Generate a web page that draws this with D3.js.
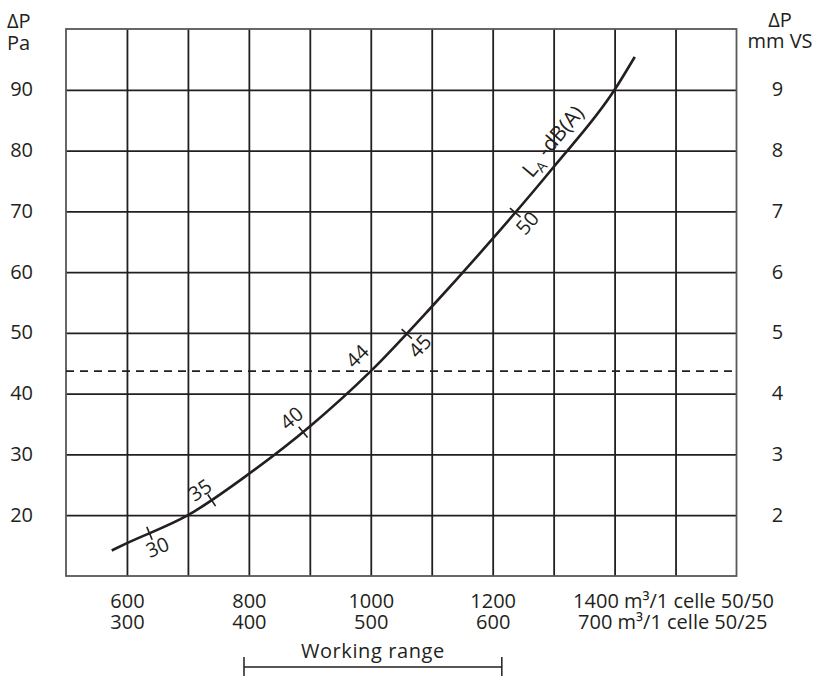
<!DOCTYPE html>
<html lang="en">
<head>
<meta charset="UTF-8">
<title>Pressure drop</title>
<style>
body{margin:0;background:#fff;}
svg text{font-family:"Open Sans",sans-serif;fill:#231f20;}
</style>
</head>
<body>
<script src="https://cdn.jsdelivr.net/npm/d3@7"></script>
<script>
// flow m3/h (1 celle 50/50) against pressure drop in Pa
var flow=[575,600,700,800,900,1000,1100,1200,1300,1400,1433]
var pressure=[14.2,15.4,20.0,26.8,34.6,43.7,54.3,65.5,77.3,90.0,95.4]
// sound level marks on the curve, dB(A), and the flow where each one sits
var dbLevels=[30,35,40,45,50]
var dbFlows=[637,739,889,1059,1237]
// 44 dB(A) reference line
var refLevel=44, refFlow=1001, refPressure=43.7
var paTicks=[20,30,40,50,60,70,80,90]
var mmTicks=[2,3,4,5,6,7,8,9]
var flowTicks=[600,800,1000,1200,1400]
var flowTicks2=[300,400,500,600,700]
var workingRange=[792,1215]

// layout only: which side of the curve each dB label goes (1 = below/right)
var dbSide=[1,-1,-1,1,1], dbDist=[16,15,18,18,16], dbAlong=[2,-4,0,0,0]

var width=818,height=676,fs=20
var pad={left:66,right:736.5,top:29,bottom:576}

var svg=d3.select('body').append('svg').attr('width',width).attr('height',height)

var x=d3.scaleLinear().domain([500,1600]).range([pad.left,pad.right])
var x2=d3.scaleLinear().domain([250,800]).range([pad.left,pad.right])
var y=d3.scaleLinear().domain([10,100]).range([pad.bottom,pad.top])
var yMm=d3.scaleLinear().domain([1,10]).range([pad.bottom,pad.top])

// grid
svg.append('g').attr('class','grid').attr('transform','translate(0,'+pad.bottom+')')
    .call(d3.axisBottom(x).tickValues(d3.range(600,1600,100)).tickSize(-(pad.bottom-pad.top)).tickFormat(''))
svg.append('g').attr('class','grid').attr('transform','translate('+pad.left+',0)')
    .call(d3.axisLeft(y).tickValues(paTicks).tickSize(-(pad.right-pad.left)).tickFormat(''))
svg.selectAll('.grid .domain').remove()
svg.selectAll('.grid .tick line').attr('stroke','#231f20').attr('stroke-width',1.8)

svg.append('rect').attr('x',pad.left).attr('y',pad.top)
    .attr('width',pad.right-pad.left).attr('height',pad.bottom-pad.top)
    .attr('fill','none').attr('stroke','#58585a').attr('stroke-width',1.8)

function styleAxis(g){
    g.select('.domain').remove()
    g.attr('font-family',null).attr('font-size',null)
    g.selectAll('text').attr('font-size',fs)
}

// left axis, Pa
svg.append('g').attr('transform','translate('+pad.left+',0)')
    .call(d3.axisLeft(y).tickValues(paTicks).tickSize(0).tickPadding(33))
    .call(styleAxis)
    .selectAll('text').attr('dy','0.3em')
// right axis, mm VS
var gr=svg.append('g').attr('transform','translate('+pad.right+',0)')
    .call(d3.axisRight(yMm).tickValues(mmTicks).tickSize(0))
    .call(styleAxis)
gr.selectAll('text').attr('text-anchor','middle').attr('x',41).attr('dy','0.3em')

// bottom axes, two rows
var gb1=svg.append('g').attr('transform','translate(0,'+pad.bottom+')')
    .call(d3.axisBottom(x).tickValues(flowTicks).tickSize(0).tickFormat(d3.format('d')))
    .call(styleAxis)
gb1.selectAll('text').attr('y',32).attr('dy',0)
gb1.selectAll('text').filter(function(d){return d===1400})
    .attr('text-anchor','start').attr('x',-42).text('1400 m\u00b3/1 celle 50/50')

var gb2=svg.append('g').attr('transform','translate(0,'+pad.bottom+')')
    .call(d3.axisBottom(x2).tickValues(flowTicks2).tickSize(0).tickFormat(d3.format('d')))
    .call(styleAxis)
gb2.selectAll('text').attr('y',53).attr('dy',0)
gb2.selectAll('text').filter(function(d){return d===700})
    .attr('text-anchor','start').attr('x',-37).text('700 m\u00b3/1 celle 50/25')

// axis titles
svg.append('text').attr('x',7).attr('y',28).attr('font-size',fs).text('\u0394P')
svg.append('text').attr('x',7).attr('y',50).attr('font-size',fs).text('Pa')
svg.append('text').attr('x',780).attr('y',27).attr('font-size',fs).attr('text-anchor','middle').text('\u0394P')
svg.append('text').attr('x',780).attr('y',48).attr('font-size',fs).attr('text-anchor','middle').text('mm VS')

// working range bracket
var wr0=x(workingRange[0]),wr1=x(workingRange[1])
svg.append('path')
    .attr('d','M'+wr0+',657V676M'+wr0+',667H'+wr1+'M'+wr1+',657V676')
    .attr('fill','none').attr('stroke','#231f20').attr('stroke-width',1.5)
svg.append('text').attr('x',(wr0+wr1)/2).attr('y',658).attr('font-size',fs)
    .attr('letter-spacing',0.6).attr('text-anchor','middle').text('Working range')

// 44 dB(A) dashed line
svg.append('line').attr('x1',x(500)).attr('x2',x(1600))
    .attr('y1',y(refPressure)).attr('y2',y(refPressure))
    .attr('stroke','#231f20').attr('stroke-width',1.8).attr('stroke-dasharray','8,6')

// curve
var pts=flow.map(function(f,i){return [f,pressure[i]]})
var line=d3.line().x(function(d){return x(d[0])}).y(function(d){return y(d[1])}).curve(d3.curveMonotoneX)
var curve=svg.append('path').datum(pts).attr('d',line)
    .attr('fill','none').attr('stroke','#231f20').attr('stroke-width',2.6)

function pointAt(q){
    var node=curve.node(),L=node.getTotalLength(),lo=0,hi=L,tx=x(q)
    for(var i=0;i<40;i++){
        var mid=(lo+hi)/2
        if(node.getPointAtLength(mid).x<tx)lo=mid;else hi=mid
    }
    var p=node.getPointAtLength(lo),a=node.getPointAtLength(Math.max(0,lo-3)),b=node.getPointAtLength(Math.min(L,lo+3))
    var ang=Math.atan2(b.y-a.y,b.x-a.x)
    return {x:p.x,y:p.y,a:ang,nx:-Math.sin(ang),ny:Math.cos(ang),tx:Math.cos(ang),ty:Math.sin(ang)}
}

function curveLabel(q,side,dist,along,txt,size){
    var p=pointAt(q)
    var cx=p.x+side*dist*p.nx+along*p.tx, cy=p.y+side*dist*p.ny+along*p.ty
    return svg.append('text').attr('font-size',size||fs).attr('text-anchor','middle').attr('dy','0.35em')
        .attr('transform','translate('+cx+','+cy+') rotate('+(p.a*180/Math.PI)+')')
        .text(txt)
}

dbLevels.forEach(function(db,i){
    var p=pointAt(dbFlows[i])
    svg.append('line')
        .attr('x1',p.x-7*p.nx).attr('y1',p.y-7*p.ny)
        .attr('x2',p.x+7*p.nx).attr('y2',p.y+7*p.ny)
        .attr('stroke','#231f20').attr('stroke-width',1.6)
    curveLabel(dbFlows[i],dbSide[i],dbDist[i],dbAlong[i],db)
})
curveLabel(refFlow,-1,20,0,refLevel)

var la=curveLabel(1320,-1,16,0,'',21)
la.append('tspan').text('L')
la.append('tspan').attr('font-size',14).attr('dy','0.3em').text('A')
la.append('tspan').attr('dy','-0.3em').text(' -dB(A)')
</script>
</body>
</html>
